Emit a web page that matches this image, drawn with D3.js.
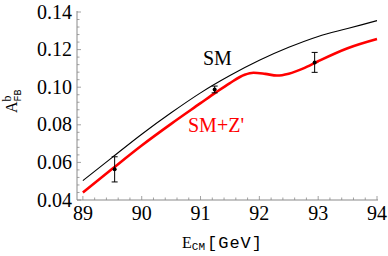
<!DOCTYPE html>
<html>
<head>
<meta charset="utf-8">
<script src="https://cdn.jsdelivr.net/npm/d3@7"></script>
<style>
  body { margin: 0; background: #fff; }
  svg text { font-family: "Liberation Serif", "Times New Roman", Times, serif; }
  svg text .mono, svg text.mono { font-family: "Liberation Mono", "DejaVu Sans Mono", monospace; }
</style>
</head>
<body>
<script>
// energies (GeV) and asymmetry values
var smE   = [89, 89.5, 90, 90.5, 91, 91.5, 92, 92.5, 93, 93.5, 94];
var smA   = [0.0503, 0.0627, 0.0750, 0.0864, 0.0970, 0.1062, 0.1143, 0.1212, 0.1270, 0.1312, 0.1354];

var zpE   = [89, 89.5, 90, 90.5, 91, 91.25, 91.5, 91.75, 91.9, 92.1, 92.3, 92.5, 92.75, 93, 93.5, 94];
var zpA   = [0.0440, 0.0566, 0.0690, 0.0805, 0.0915, 0.0970, 0.1022, 0.1066, 0.1077, 0.1071, 0.1062, 0.1072, 0.1100, 0.1138, 0.1207, 0.1256];

var dataE   = [89.54, 91.24, 92.94];
var dataA   = [0.0563, 0.0988, 0.1132];
var dataErr = [0.0067, 0.0018, 0.0053];

var xTicks = [89, 90, 91, 92, 93, 94];
var yTicks = [0.04, 0.06, 0.08, 0.10, 0.12, 0.14];

var W = 388, H = 256;

var svg = d3.select("body").append("svg")
    .attr("width", W)
    .attr("height", H);

var x = d3.scaleLinear().domain([88.9, 94]).range([77, 377]);
var y = d3.scaleLinear().domain([0.04, 0.14]).range([200, 12]);

var axisColor = "#8a8a8a";

// x axis
var gx = svg.append("g").attr("transform", "translate(0,200)");
gx.append("line").attr("x1", 77).attr("x2", 378).attr("y1", 0).attr("y2", 0)
    .attr("stroke", axisColor).attr("stroke-width", 1);
var xMinor = d3.range(0, 26).map(i => 89 + i * 0.2);
gx.selectAll(".xm").data(xMinor).enter().append("line")
    .attr("x1", d => x(d)).attr("x2", d => x(d))
    .attr("y1", 0).attr("y2", (d, i) => i % 5 == 0 ? -4 : -2.5)
    .attr("stroke", axisColor).attr("stroke-width", 0.8);
gx.selectAll(".xl").data(xTicks).enter().append("text")
    .attr("x", d => x(d)).attr("y", 20)
    .attr("text-anchor", "middle")
    .style("font-size", "20px")
    .text(d => d);

// y axis
var gy = svg.append("g").attr("transform", "translate(77,0)");
gy.append("line").attr("x1", 0).attr("x2", 0).attr("y1", 11).attr("y2", 200)
    .attr("stroke", axisColor).attr("stroke-width", 1);
var yMinor = d3.range(0, 26).map(i => 0.04 + i * 0.004);
gy.selectAll(".ym").data(yMinor).enter().append("line")
    .attr("y1", d => y(d)).attr("y2", d => y(d))
    .attr("x1", 0).attr("x2", (d, i) => i % 5 == 0 ? 4 : 2.5)
    .attr("stroke", axisColor).attr("stroke-width", 0.8);
gy.selectAll(".yl").data(yTicks).enter().append("text")
    .attr("x", -5).attr("y", d => y(d) + 6.5)
    .attr("text-anchor", "end")
    .style("font-size", "20px")
    .text(d => d.toFixed(2));

// curves
var line = d3.line()
    .x(d => x(d[0]))
    .y(d => y(d[1]))
    .curve(d3.curveMonotoneX);

svg.append("path")
    .datum(smE.map((e, i) => [e, smA[i]]))
    .attr("d", line)
    .attr("fill", "none")
    .attr("stroke", "#000")
    .attr("stroke-width", 1.1);

svg.append("path")
    .datum(zpE.map((e, i) => [e, zpA[i]]))
    .attr("d", line)
    .attr("fill", "none")
    .attr("stroke", "#ff0000")
    .attr("stroke-width", 2.6);

// data points with error bars
var pts = svg.selectAll(".pt").data(dataE.map((e, i) => ({e: e, a: dataA[i], err: dataErr[i]})))
    .enter().append("g");
pts.append("line")
    .attr("x1", d => x(d.e)).attr("x2", d => x(d.e))
    .attr("y1", d => y(d.a - d.err)).attr("y2", d => y(d.a + d.err))
    .attr("stroke", "#000").attr("stroke-width", 1);
pts.append("line")
    .attr("x1", d => x(d.e) - 3).attr("x2", d => x(d.e) + 3)
    .attr("y1", d => y(d.a - d.err)).attr("y2", d => y(d.a - d.err))
    .attr("stroke", "#000").attr("stroke-width", 1);
pts.append("line")
    .attr("x1", d => x(d.e) - 3).attr("x2", d => x(d.e) + 3)
    .attr("y1", d => y(d.a + d.err)).attr("y2", d => y(d.a + d.err))
    .attr("stroke", "#000").attr("stroke-width", 1);
pts.append("circle")
    .attr("cx", d => x(d.e)).attr("cy", d => y(d.a))
    .attr("r", 2).attr("fill", "#000");

// curve labels
svg.append("text")
    .attr("x", 203).attr("y", 65)
    .style("font-size", "20px")
    .text("SM");

svg.append("text")
    .attr("x", 188).attr("y", 132)
    .style("font-size", "20px")
    .attr("fill", "#ff0000")
    .text("SM+Z'");

// axis titles
var xt = svg.append("text")
    .attr("x", 182).attr("y", 248)
    .style("font-size", "16px");
xt.append("tspan").text("E");
xt.append("tspan").attr("class", "mono").attr("dy", 2).style("font-size", "11px").text("CM");
xt.append("tspan").attr("class", "mono").attr("dy", -2).attr("dx", 2).style("font-size", "17px")
    .style("letter-spacing", "1px").text("[GeV]");

var yt = svg.append("text")
    .attr("transform", "translate(17,113) rotate(-90)")
    .style("font-size", "16px");
yt.append("tspan").text("A");
yt.append("tspan").attr("dy", -6).style("font-size", "12px").text("b");
yt.append("tspan").attr("class", "mono").attr("dx", -6).attr("dy", 10).style("font-size", "10px").text("FB");
</script>
</body>
</html>
